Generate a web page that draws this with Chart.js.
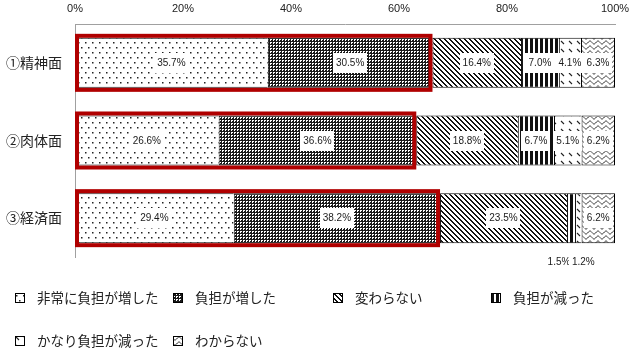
<!DOCTYPE html>
<html><head><meta charset="utf-8">
<script src="https://cdn.jsdelivr.net/npm/chart.js@4"></script>
<style>
html,body{margin:0;padding:0;background:#fff;}
#wrap{position:relative;width:638px;height:356px;overflow:hidden;}
#c{position:absolute;left:0;top:0;}
.lg{position:absolute;font-family:"Noto Sans CJK JP";font-size:13.5px;color:#222;line-height:14px;white-space:nowrap;}
.sw{position:absolute;}
</style></head><body>
<div id="wrap"><canvas id="c" width="638" height="356"></canvas><div id="legend"></div></div>
<script>
// ---- data ----
const categories = ['①精神面', '②肉体面', '③経済面'];
const seriesNames = ['非常に負担が増した', '負担が増した', '変わらない', '負担が減った', 'かなり負担が減った', 'わからない'];
const veryIncreased = [35.7, 26.6, 29.4];
const increased     = [30.5, 36.6, 38.2];
const unchanged     = [16.4, 18.8, 23.5];
const decreased     = [7.0, 6.7, 1.5];
const veryDecreased = [4.1, 5.1, 1.2];
const unknown       = [6.3, 6.2, 6.2];
const xTicks = [0, 20, 40, 60, 80, 100];
const series = [veryIncreased, increased, unchanged, decreased, veryDecreased, unknown];

// ---- patterns ----
function mk(w, h, draw) {
  const c = document.createElement('canvas'); c.width = w; c.height = h;
  const g = c.getContext('2d'); g.fillStyle = '#fff'; g.fillRect(0, 0, w, h); draw(g); return c;
}
const tiles = [
  mk(14, 10, g => { g.fillStyle = '#222'; [[1,2],[8,2],[4,7],[11,7]].forEach(p => g.fillRect(p[0], p[1], 1.5, 1.5)); }),
  mk(3, 3, g => { g.fillStyle = '#1a1a1a'; g.fillRect(0, 0, 3, 3); g.fillStyle = '#fff'; g.fillRect(0, 0, 2, 1); g.fillRect(0, 1, 1, 1); }),
  mk(5, 5, g => { g.fillStyle = '#111'; for (let y = 0; y < 5; y++) { g.fillRect(y, y, 1, 1); g.fillRect((y + 1) % 5, y, 1, 1); } }),
  mk(5, 1, g => { g.fillStyle = '#111'; g.fillRect(0, 0, 3, 1); }),
  mk(8, 8, g => { g.strokeStyle = '#222'; g.lineWidth = 1.1; g.beginPath(); g.moveTo(1, 1); g.lineTo(4, 4); g.stroke(); }),
  mk(8, 5, g => { g.strokeStyle = '#222'; g.lineWidth = 1; g.beginPath(); for (let x = 0; x <= 8; x += 0.5) { const y = 2.5 + 1.5 * Math.sin(2 * Math.PI * x / 8); if (x === 0) g.moveTo(x, y); else g.lineTo(x, y); } g.stroke(); })
];
const canvas = document.getElementById('c');
const ctx0 = canvas.getContext('2d');
const patterns = tiles.map(t => ctx0.createPattern(t, 'repeat'));

// ---- legend (HTML) ----
const legendPos = [[15, 298], [173, 298], [333, 298], [491, 298], [15, 341], [173, 341]];
const lg = document.getElementById('legend');
seriesNames.forEach((name, i) => {
  const [x, cy] = legendPos[i];
  const sw = document.createElement('canvas'); sw.width = 10; sw.height = 10; sw.className = 'sw';
  sw.style.left = x + 'px'; sw.style.top = (cy - 5) + 'px';
  const g = sw.getContext('2d'); g.fillStyle = g.createPattern(tiles[i], 'repeat'); g.fillRect(0, 0, 10, 10);
  g.strokeStyle = '#000'; g.lineWidth = 1; g.strokeRect(0.5, 0.5, 9, 9);
  lg.appendChild(sw);
  const t = document.createElement('div'); t.className = 'lg'; t.textContent = name;
  t.style.left = (x + 22) + 'px'; t.style.top = (cy - 8) + 'px';
  lg.appendChild(t);
});

// ---- labels + red boxes ----
const labelPlugin = {
  id: 'vals',
  afterDatasetsDraw(chart) {
    const ctx = chart.ctx;
    ctx.save();
    ctx.font = '10px "Liberation Sans", Arial, sans-serif';
    ctx.textAlign = 'center'; ctx.textBaseline = 'middle';
    chart.data.datasets.forEach((ds, di) => {
      const meta = chart.getDatasetMeta(di);
      meta.data.forEach((bar, i) => {
        const v = ds.data[i];
        const txt = v.toFixed(1) + '%';
        let x = (bar.x + bar.base) / 2, y = bar.y;
        if (v < 3) { y = bar.y + bar.height / 2 + 19; x += (di === 3 ? -12 : 5); }
        const w = Math.round(ctx.measureText(txt).width + 6), h = 20;
        ctx.fillStyle = '#fff';
        ctx.fillRect(Math.round(x - w / 2), Math.round(y - h / 2), w, h);
        ctx.fillStyle = '#1a1a1a';
        ctx.fillText(txt, x, y + 0.5);
      });
    });
    // red outline around first two segments
    const xs = chart.scales.x;
    const meta0 = chart.getDatasetMeta(0);
    ctx.strokeStyle = '#B00000'; ctx.lineWidth = 4;
    meta0.data.forEach((bar, i) => {
      const x0 = xs.getPixelForValue(0);
      const x1 = xs.getPixelForValue(series[0][i] + series[1][i]);
      const top = bar.y - bar.height / 2, bot = bar.y + bar.height / 2;
      ctx.strokeRect(x0 + 2, top - 2, x1 - x0 - 4, bot - top + 4);
    });
    ctx.restore();
  }
};

new Chart(canvas, {
  type: 'bar',
  data: {
    labels: categories,
    datasets: series.map((d, i) => ({
      label: seriesNames[i], data: d, backgroundColor: patterns[i],
      borderColor: '#000', borderWidth: { top: 1, bottom: 1, left: 1, right: i === 5 ? 1 : 0 },
      borderSkipped: false, barPercentage: 0.644, categoryPercentage: 1
    }))
  },
  options: {
    indexAxis: 'y', responsive: false, animation: false, devicePixelRatio: 1,
    layout: { padding: { left: 0, right: 23, top: 0, bottom: 99 } },
    plugins: { legend: { display: false }, tooltip: { enabled: false } },
    scales: {
      x: {
        position: 'top', stacked: true, min: 0, max: 100,
        afterBuildTicks: s => { s.ticks = xTicks.map(v => ({ value: v })); },
        ticks: { callback: v => v + '%', font: { family: '"Liberation Sans", Arial', size: 11 }, color: '#222', padding: 8, maxRotation: 0, autoSkip: false },
        grid: { display: false, drawTicks: false },
        border: { display: true, color: '#a0a0a0', width: 1 },
        afterFit: s => { s.height = 24; }
      },
      y: {
        stacked: true,
        ticks: { font: { family: '"Noto Sans CJK JP"', size: 14 }, color: '#222', padding: 13 },
        grid: { display: false, drawTicks: false },
        border: { display: true, color: '#a0a0a0', width: 1 },
        afterFit: s => { s.width = 75; }
      }
    }
  },
  plugins: [labelPlugin]
});
</script>
</body></html>
